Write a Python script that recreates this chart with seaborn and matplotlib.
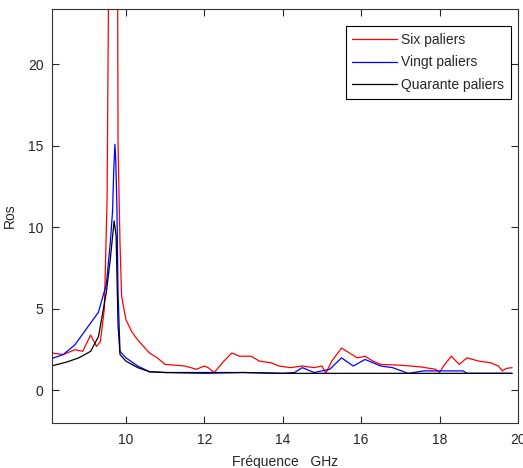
import numpy as np
import pandas as pd
import matplotlib
matplotlib.use("Agg")
import matplotlib.pyplot as plt
import seaborn as sns

series_names = ["Six paliers", "Vingt paliers", "Quarante paliers"]

six_x = [8.1, 8.4, 8.7, 8.9, 9.1, 9.25, 9.35, 9.45, 9.52, 9.55, 9.6, 9.75, 9.8, 9.85, 9.89,
         10.0, 10.15, 10.3, 10.45, 10.6, 10.8, 11.0, 11.5, 11.8, 12.0, 12.1, 12.25, 12.5,
         12.7, 12.9, 13.2, 13.4, 13.7, 13.9, 14.2, 14.5, 14.8, 15.0, 15.1, 15.25, 15.5,
         15.7, 15.9, 16.1, 16.3, 16.5, 17.0, 17.5, 17.9, 18.0, 18.1, 18.3, 18.5, 18.7,
         19.0, 19.3, 19.5, 19.6, 19.7, 19.85]
six_y = [2.3, 2.2, 2.5, 2.4, 3.4, 2.7, 3.0, 5.0, 11.7, 22.0, 40.0, 60.0, 15.0, 9.0, 5.8,
         4.35, 3.6, 3.1, 2.7, 2.3, 2.0, 1.6, 1.5, 1.3, 1.5, 1.4, 1.1, 1.8,
         2.3, 2.1, 2.1, 1.8, 1.7, 1.5, 1.4, 1.5, 1.4, 1.5, 1.05, 1.8, 2.6,
         2.3, 2.0, 2.1, 1.8, 1.6, 1.55, 1.45, 1.3, 1.1, 1.5, 2.1, 1.6, 2.0,
         1.8, 1.7, 1.5, 1.2, 1.35, 1.4]

vingt_x = [8.1, 8.4, 8.7, 9.0, 9.3, 9.5, 9.6, 9.66, 9.69, 9.72, 9.74, 9.77, 9.8, 9.85,
           10.0, 10.3, 10.6, 11.0, 12.0, 13.0, 14.0, 14.3, 14.5, 14.8, 15.2, 15.5,
           15.8, 16.1, 16.5, 16.8, 17.2, 17.6, 18.0, 18.6, 18.7, 19.85]
vingt_y = [1.95, 2.2, 2.8, 3.8, 4.8, 6.5, 9.0, 11.0, 13.5, 15.1, 14.2, 11.4, 6.0, 2.4,
           2.0, 1.5, 1.15, 1.1, 1.05, 1.1, 1.05, 1.1, 1.4, 1.1, 1.3, 2.0,
           1.5, 1.9, 1.5, 1.4, 1.05, 1.2, 1.2, 1.2, 1.05, 1.05]

quarante_x = [8.1, 8.5, 8.8, 9.1, 9.3, 9.5, 9.6, 9.7, 9.75, 9.8, 9.85, 10.0, 10.3, 10.6,
              11.0, 12.0, 13.0, 14.0, 15.0, 16.0, 17.0, 18.0, 19.0, 19.85]
quarante_y = [1.5, 1.75, 2.0, 2.4, 3.3, 6.0, 8.0, 10.4, 9.5, 4.0, 2.2, 1.8, 1.4, 1.15,
              1.1, 1.1, 1.1, 1.05, 1.05, 1.05, 1.05, 1.05, 1.05, 1.05]

colors = ["#ff0000", "#0000ff", "#000000"]

frames = []
for name, xs, ys in zip(series_names, [six_x, vingt_x, quarante_x], [six_y, vingt_y, quarante_y]):
    frames.append(pd.DataFrame({"freq": xs, "ros": ys, "serie": name}))
df = pd.concat(frames, ignore_index=True)

sns.set_style("ticks")
plt.rcParams["font.family"] = ["Liberation Sans", "DejaVu Sans"]

fig = plt.figure(figsize=(5.23, 4.68), dpi=100)
ax = fig.add_axes([0.0994, 0.096, 0.891, 0.885])
sns.lineplot(data=df, x="freq", y="ros", hue="serie", palette=colors,
             hue_order=series_names, sort=False, estimator=None,
             linewidth=0.9, ax=ax)

ax.set_xlim(8.115, 20)
ax.set_ylim(-2, 23.4)
ax.set_xticks([10, 12, 14, 16, 18, 20])
ax.set_yticks([0, 5, 10, 15, 20])
ax.set_xlabel("Fréquence   GHz", fontsize=10, labelpad=6)
ax.set_ylabel("Ros", fontsize=10, labelpad=8)
ax.tick_params(direction="in", top=True, right=True, labelsize=10, length=5, width=0.8)
ax.tick_params(axis="x", pad=7)
ax.tick_params(axis="y", pad=6)
for s in ax.spines.values():
    s.set_linewidth(0.8)
    s.set_color("#333333")

leg = ax.legend(loc="upper right", fontsize=10, frameon=True, fancybox=False,
                edgecolor="black", framealpha=1, handlelength=3.2, handletextpad=0.3,
                borderpad=0.5, labelspacing=0.6, bbox_to_anchor=(1.0, 0.975))
leg.get_frame().set_linewidth(0.8)

fig.savefig("out.png", dpi=100)
